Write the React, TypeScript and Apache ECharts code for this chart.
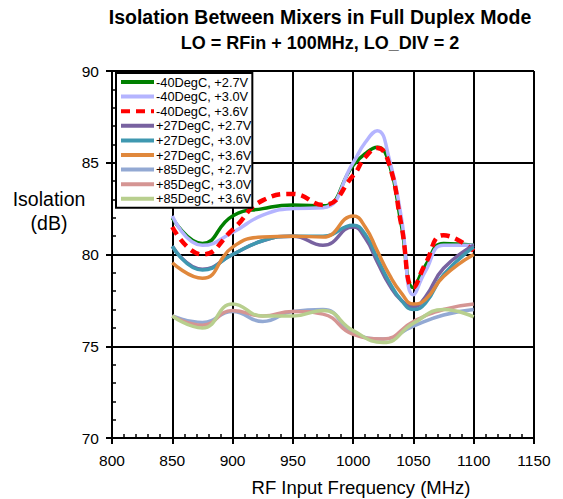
import React, { useEffect, useRef } from "react";
import * as echarts from "echarts";

const freqA = [850, 875, 900, 925, 950, 975, 1000, 1010, 1020, 1030, 1040, 1050, 1060, 1075, 1100];
const freqB = [850, 875, 900, 925, 950, 975, 1000, 1025, 1050, 1075, 1100];

const m40_27 = [82.0, 80.6, 82.1, 82.5, 82.7, 82.65, 84.85, 85.5, 85.85, 84.95, 81.6, 78.2, 79.4, 80.6, 80.5];
const m40_30 = [82.1, 80.5, 81.2, 82.15, 82.5, 82.55, 85.0, 86.1, 86.75, 85.2, 82.0, 77.8, 79.1, 80.5, 80.5];
const m40_36 = [81.5, 80.0, 81.35, 82.95, 83.3, 82.7, 84.3, 85.3, 85.8, 84.9, 81.6, 78.2, 79.5, 81.05, 80.2];
const p27_27 = [80.45, 79.2, 80.0, 80.75, 81.0, 80.5, 81.5, 80.9, 79.6, 78.35, 77.5, 77.15, 77.7, 79.25, 80.5];
const p27_30 = [80.45, 79.15, 80.0, 80.75, 81.0, 81.0, 81.6, 81.1, 79.8, 78.5, 77.5, 77.0, 77.35, 78.9, 80.4];
const p27_36 = [79.55, 78.7, 80.4, 80.95, 81.0, 80.95, 82.1, 81.5, 80.2, 78.9, 77.9, 77.3, 77.55, 78.8, 80.0];
const p85_27 = [76.65, 76.3, 76.9, 76.35, 76.9, 77.0, 75.75, 75.4, 76.1, 76.7, 77.0];
const p85_30 = [76.65, 76.15, 76.95, 76.65, 76.9, 76.75, 75.65, 75.4, 76.35, 77.0, 77.3];
const p85_36 = [76.65, 76.0, 77.3, 76.65, 76.65, 76.95, 75.85, 75.2, 76.25, 77.0, 76.6];

const names = [
  "-40DegC, +2.7V",
  "-40DegC, +3.0V",
  "-40DegC, +3.6V",
  "+27DegC, +2.7V",
  "+27DegC, +3.0V",
  "+27DegC, +3.6V",
  "+85DegC, +2.7V",
  "+85DegC, +3.0V",
  "+85DegC, +3.6V",
];
const seriesValues = [m40_27, m40_30, m40_36, p27_27, p27_30, p27_36, p85_27, p85_30, p85_36];
const seriesFreqs = [freqA, freqA, freqA, freqA, freqA, freqA, freqB, freqB, freqB];
const colors = ["#008000", "#B4B4FF", "#FF0000", "#7862A0", "#3F98B0", "#E0883C", "#93A9D3", "#D59593", "#B8CF8E"];

const FONT = "Liberation Sans, Arial, sans-serif";

export default function App() {
  const ref = useRef<HTMLDivElement>(null);
  useEffect(() => {
    if (!ref.current) return;
    const chart = echarts.init(ref.current, null, { renderer: "svg" });
    const series = names.map((name, k) => ({
      name,
      type: "line",
      xAxisIndex: 0,
      yAxisIndex: 0,
      smooth: 0.5,
      symbol: "none",
      showSymbol: false,
      data: seriesFreqs[k].map((f, i) => [f, seriesValues[k][i]]),
      lineStyle: {
        color: colors[k],
        width: k === 2 ? 4.5 : 3.5,
        type: k === 2 ? [9, 6] : "solid",
      },
      itemStyle: { color: colors[k] },
    }));
    chart.setOption({
      animation: false,
      backgroundColor: "#fff",
      textStyle: { fontFamily: FONT },
      grid: { left: 112, right: 29, top: 71, bottom: 61 },
      legend: {
        orient: "vertical",
        left: 116,
        top: 73,
        selectedMode: false,
        data: names,
        itemWidth: 33,
        itemHeight: 14,
        itemGap: 0.6,
        padding: [2, 1, 2, 3],
        borderColor: "#000",
        borderWidth: 2,
        backgroundColor: "#fff",
        itemStyle: { opacity: 0 },
        lineStyle: { width: 4 },
        textStyle: { fontFamily: FONT, fontSize: 12.8, color: "#000", lineHeight: 14, padding: [0, 0, 0, -3] },
      },
      xAxis: [
        {
          type: "value",
          min: 800,
          max: 1150,
          interval: 50,
          axisLine: { show: true, onZero: false, lineStyle: { color: "#000", width: 2 } },
          axisTick: { show: true, inside: false, length: 6, lineStyle: { color: "#000", width: 2 } },
          axisLabel: { color: "#000", fontSize: 15.5, fontFamily: FONT, margin: 14, formatter: (v: number) => String(v) },
          splitLine: { show: true, lineStyle: { color: "#000", width: 2 } },
        },
        {
          type: "value",
          position: "bottom",
          min: 800,
          max: 1150,
          interval: 10,
          axisLine: { show: false, onZero: false },
          axisTick: { show: true, inside: true, length: 4, lineStyle: { color: "#000", width: 1.5 } },
          axisLabel: { show: false },
          splitLine: { show: false },
        },
      ],
      yAxis: [
        {
          type: "value",
          min: 70,
          max: 90,
          interval: 5,
          axisLine: { show: true, onZero: false, lineStyle: { color: "#000", width: 2 } },
          axisTick: { show: true, inside: false, length: 6, lineStyle: { color: "#000", width: 2 } },
          axisLabel: { color: "#000", fontSize: 15.5, fontFamily: FONT, margin: 13, formatter: (v: number) => String(v) },
          splitLine: { show: true, lineStyle: { color: "#000", width: 2 } },
        },
        {
          type: "value",
          position: "left",
          min: 70,
          max: 90,
          interval: 1,
          axisLine: { show: false, onZero: false },
          axisTick: { show: true, inside: true, length: 4, lineStyle: { color: "#000", width: 1.5 } },
          axisLabel: { show: false },
          splitLine: { show: false },
        },
      ],
      graphic: [
        {
          type: "text",
          x: 320,
          y: 17,
          style: {
            text: "Isolation Between Mixers in Full Duplex Mode",
            fontFamily: FONT,
            fontSize: 19.5,
            fontWeight: "bold",
            fill: "#000",
            align: "center",
            verticalAlign: "middle",
          },
        },
        {
          type: "text",
          x: 320,
          y: 43,
          style: {
            text: "LO = RFin + 100MHz, LO_DIV = 2",
            fontFamily: FONT,
            fontSize: 18,
            fontWeight: "bold",
            fill: "#000",
            align: "center",
            verticalAlign: "middle",
          },
        },
        {
          type: "text",
          x: 49,
          y: 199,
          style: {
            text: "Isolation",
            fontFamily: FONT,
            fontSize: 19.5,
            fill: "#000",
            align: "center",
            verticalAlign: "middle",
          },
        },
        {
          type: "text",
          x: 49,
          y: 223,
          style: {
            text: "(dB)",
            fontFamily: FONT,
            fontSize: 19.5,
            fill: "#000",
            align: "center",
            verticalAlign: "middle",
          },
        },
        {
          type: "text",
          x: 361,
          y: 487,
          style: {
            text: "RF Input Frequency (MHz)",
            fontFamily: FONT,
            fontSize: 18.5,
            fill: "#000",
            align: "center",
            verticalAlign: "middle",
          },
        },
      ],
      series,
    });
    return () => chart.dispose();
  }, []);
  return <div ref={ref} style={{ position: "fixed", left: 0, top: 0, width: 563, height: 499 }} />;
}
